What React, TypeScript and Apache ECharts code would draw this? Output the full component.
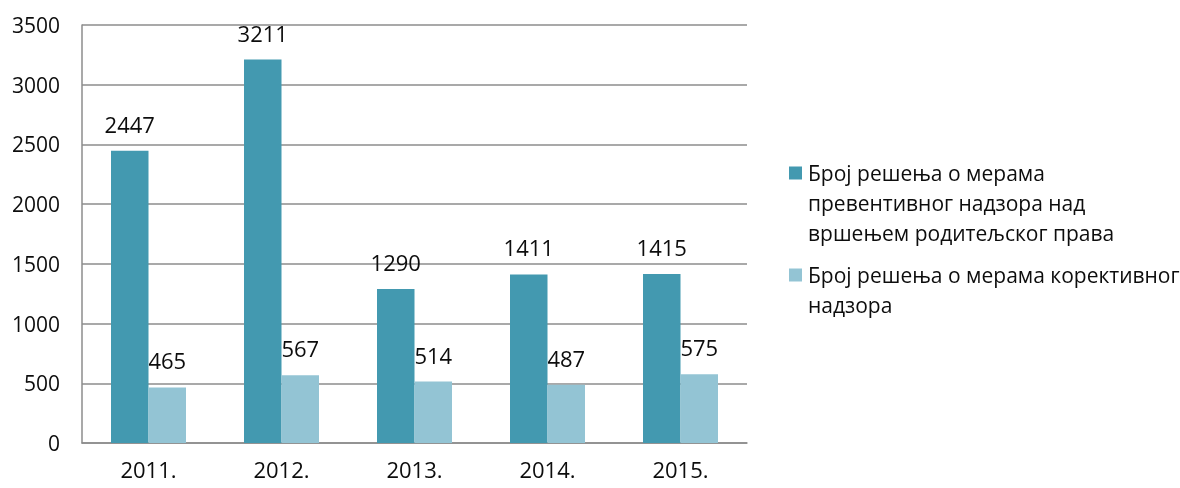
import React, { useEffect, useRef } from "react";
import * as echarts from "echarts";

const categories = ["2011.", "2012.", "2013.", "2014.", "2015."];
const preventiveName = "Број решења о мерама превентивног надзора над вршењем родитељског права";
const correctiveName = "Број решења о мерама корективног надзора";
const preventiveLines = ["Број решења о мерама", "превентивног надзора над", "вршењем родитељског права"];
const correctiveLines = ["Број решења о мерама корективног", "надзора"];
const preventive = [2447, 3211, 1290, 1411, 1415];
const corrective = [465, 567, 514, 487, 575];
const yTicks = { min: 0, max: 3500, interval: 500 };

const DARK = "#4399B0";
const LIGHT = "#93C4D4";
const FONT = "Open Sans";
const TEXT = "#0d0d0d";

export default function App() {
  const ref = useRef<HTMLDivElement>(null);
  useEffect(() => {
    document.body.style.margin = "0";
    const chart = echarts.init(ref.current!, null, { renderer: "svg" });
    const legendItems: any[] = [];
    const addLegend = (color: string, lines: string[], y: number) => {
      legendItems.push({
        type: "rect",
        shape: { x: 789, y: y - 6.5, width: 13, height: 13 },
        style: { fill: color },
      });
      legendItems.push({
        type: "text",
        x: 808,
        y: y - 15,
        style: {
          text: lines.join("\n"),
          fontFamily: FONT,
          fontSize: 21,
          lineHeight: 30,
          fill: TEXT,
          verticalAlign: "top",
        },
      });
    };
    addLegend(DARK, preventiveLines, 173);
    addLegend(LIGHT, correctiveLines, 275);

    chart.setOption({
      animation: false,
      grid: { left: 82, right: 433, top: 25, bottom: 45, containLabel: false },
      xAxis: {
        type: "category",
        data: categories,
        axisLine: { lineStyle: { color: "#8c8c8c", width: 1.5 } },
        axisTick: { show: false },
        axisLabel: { fontFamily: FONT, fontSize: 22, lineHeight: 22, color: TEXT, margin: 15 },
      },
      yAxis: {
        type: "value",
        min: yTicks.min,
        max: yTicks.max,
        interval: yTicks.interval,
        axisLine: { show: true, lineStyle: { color: "#8c8c8c", width: 1.5 } },
        axisTick: { show: false },
        splitLine: { lineStyle: { color: "#8c8c8c", width: 1.5 } },
        axisLabel: {
          fontFamily: FONT,
          fontSize: 21,
          color: TEXT,
          margin: 22,
          formatter: (v: number) => String(v),
        },
      },
      series: [
        {
          name: preventiveName,
          type: "bar",
          data: preventive,
          barWidth: 37.5,
          barGap: "0%",
          itemStyle: { color: DARK },
          label: { show: true, position: "top", distance: 16, fontFamily: FONT, fontSize: 22, color: TEXT },
        },
        {
          name: correctiveName,
          type: "bar",
          data: corrective,
          barWidth: 37.5,
          barGap: "0%",
          itemStyle: { color: LIGHT },
          label: { show: true, position: "top", distance: 16, fontFamily: FONT, fontSize: 22, color: TEXT },
        },
      ],
      graphic: legendItems,
    });
    return () => chart.dispose();
  }, []);
  return <div ref={ref} style={{ position: "fixed", left: 0, top: 0, width: 1180, height: 488 }} />;
}
